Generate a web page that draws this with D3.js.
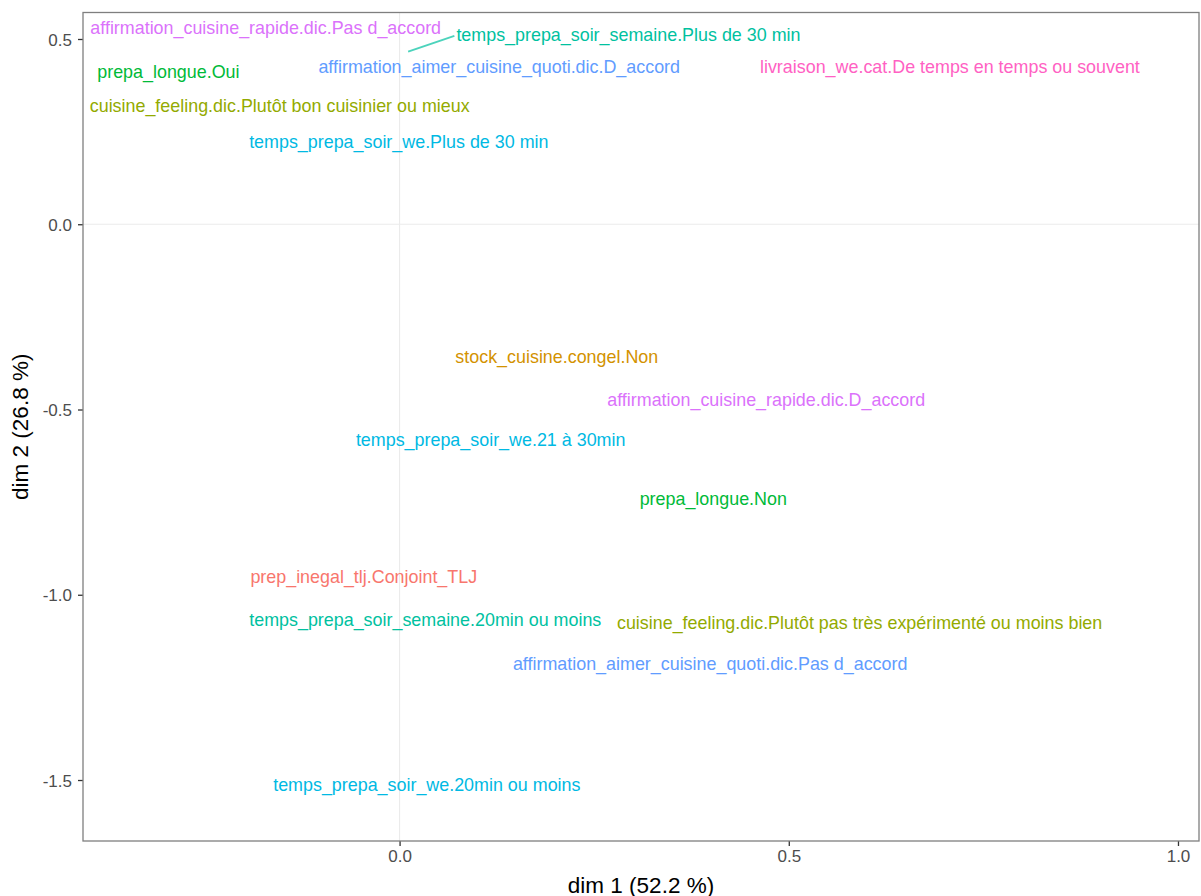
<!DOCTYPE html>
<html>
<head>
<meta charset="utf-8">
<script src="https://cdn.jsdelivr.net/npm/d3@7"></script>
<style>
  html, body { margin: 0; padding: 0; background: #fff; }
  svg { display: block; font-family: "Liberation Sans", Arial, sans-serif; }
</style>
</head>
<body>
<svg id="chart" width="1201" height="896"></svg>
<script>
// Category labels (MCA variable modalities)
const labels = [
  "affirmation_cuisine_rapide.dic.Pas d_accord",
  "temps_prepa_soir_semaine.Plus de 30 min",
  "prepa_longue.Oui",
  "affirmation_aimer_cuisine_quoti.dic.D_accord",
  "livraison_we.cat.De temps en temps ou souvent",
  "cuisine_feeling.dic.Plutôt bon cuisinier ou mieux",
  "temps_prepa_soir_we.Plus de 30 min",
  "stock_cuisine.congel.Non",
  "affirmation_cuisine_rapide.dic.D_accord",
  "temps_prepa_soir_we.21 à 30min",
  "prepa_longue.Non",
  "prep_inegal_tlj.Conjoint_TLJ",
  "temps_prepa_soir_semaine.20min ou moins",
  "cuisine_feeling.dic.Plutôt pas très expérimenté ou moins bien",
  "affirmation_aimer_cuisine_quoti.dic.Pas d_accord",
  "temps_prepa_soir_we.20min ou moins"
];
// Variable group of each label
const groups = [
  "affirmation_cuisine_rapide", "temps_prepa_soir_semaine", "prepa_longue",
  "affirmation_aimer_cuisine_quoti", "livraison_we", "cuisine_feeling",
  "temps_prepa_soir_we", "stock_cuisine", "affirmation_cuisine_rapide",
  "temps_prepa_soir_we", "prepa_longue", "prep_inegal_tlj",
  "temps_prepa_soir_semaine", "cuisine_feeling", "affirmation_aimer_cuisine_quoti",
  "temps_prepa_soir_we"
];
// Label positions (dim 1, dim 2)
const dim1 = [-0.172, 0.294, -0.297, 0.128, 0.707, -0.154, -0.001, 0.202, 0.471, 0.117, 0.403, -0.046, 0.033, 0.591, 0.399, 0.035];
const dim2 = [0.530, 0.511, 0.411, 0.424, 0.424, 0.319, 0.222, -0.358, -0.474, -0.582, -0.742, -0.952, -1.068, -1.076, -1.187, -1.514];
// Actual point coordinates for repelled labels (null = label sits on point)
const pointDim1 = [null, 0.011, null, null, null, null, null, null, null, null, null, null, null, null, null, null];
const pointDim2 = [null, 0.466, null, null, null, null, null, null, null, null, null, null, null, null, null, null];

const groupOrder = ["prep_inegal_tlj", "stock_cuisine", "cuisine_feeling", "prepa_longue",
  "temps_prepa_soir_semaine", "temps_prepa_soir_we", "affirmation_aimer_cuisine_quoti",
  "affirmation_cuisine_rapide", "livraison_we"];
const groupColors = ["#F8766D", "#D39200", "#93AA00", "#00BA38", "#00C19F", "#00B9E3", "#619CFF", "#DB72FB", "#FF61C3"];

const xTicks = [0.0, 0.5, 1.0];
const yTicks = [0.5, 0.0, -0.5, -1.0, -1.5];
const xTitle = "dim 1 (52.2 %)";
const yTitle = "dim 2 (26.8 %)";

const svg = d3.select("#chart");
const P = { left: 83, right: 1199, top: 12.5, bottom: 841 };

const x = d3.scaleLinear().domain([-0.4067, 1.027]).range([P.left, P.right]);
const y = d3.scaleLinear().domain([-1.6646, 0.5715]).range([P.bottom, P.top]);
const color = d3.scaleOrdinal().domain(groupOrder).range(groupColors);
const fmt = d => d.toFixed(1);

// panel background
svg.append("rect").attr("x", P.left).attr("y", P.top)
  .attr("width", P.right - P.left).attr("height", P.bottom - P.top)
  .attr("fill", "#fff");

// zero reference lines
svg.append("line").attr("x1", x(0)).attr("x2", x(0)).attr("y1", P.top).attr("y2", P.bottom)
  .attr("stroke", "#EBEBEB").attr("stroke-width", 1.1);
svg.append("line").attr("x1", P.left).attr("x2", P.right).attr("y1", y(0)).attr("y2", y(0))
  .attr("stroke", "#EBEBEB").attr("stroke-width", 1.1);

// axes
const xAxis = svg.append("g").attr("transform", `translate(0,${P.bottom})`)
  .call(d3.axisBottom(x).tickValues(xTicks).tickFormat(fmt).tickSize(5).tickPadding(4));
const yAxis = svg.append("g").attr("transform", `translate(${P.left},0)`)
  .call(d3.axisLeft(y).tickValues(yTicks).tickFormat(fmt).tickSize(5).tickPadding(6));
[xAxis, yAxis].forEach(a => {
  a.select(".domain").remove();
  a.selectAll(".tick line").attr("stroke", "#333").attr("stroke-width", 1.3);
  a.selectAll(".tick text").attr("fill", "#4D4D4D").style("font-size", "17px")
    .style("font-family", "'Liberation Sans', Arial, sans-serif");
});
yAxis.selectAll(".tick text").attr("dy", "0.36em");

// panel border
svg.append("rect").attr("x", P.left).attr("y", P.top)
  .attr("width", P.right - P.left).attr("height", P.bottom - P.top)
  .attr("fill", "none").attr("stroke", "#7F7F7F").attr("stroke-width", 1.3);

// labels
const data = labels.map((l, i) => ({
  label: l, group: groups[i], x: dim1[i], y: dim2[i],
  px: pointDim1[i], py: pointDim2[i]
}));

const texts = svg.append("g").selectAll("text").data(data).join("text")
  .attr("x", d => x(d.x)).attr("y", d => y(d.y))
  .attr("text-anchor", "middle").attr("dominant-baseline", "central")
  .attr("fill", d => color(d.group))
  .style("font-size", "17.9px")
  .text(d => d.label);

// segments for repelled labels
texts.each(function(d) {
  if (d.px === null) return;
  const bb = this.getBBox();
  svg.append("line")
    .attr("x1", x(d.px)).attr("y1", y(d.py))
    .attr("x2", bb.x - 2).attr("y2", y(d.y) + 1)
    .attr("stroke", color(d.group)).attr("stroke-opacity", 0.7).attr("stroke-width", 2);
});

// axis titles
svg.append("text").attr("x", (P.left + P.right) / 2).attr("y", 885)
  .attr("text-anchor", "middle").attr("dominant-baseline", "central")
  .style("font-size", "22.5px").attr("fill", "#000").text(xTitle);
svg.append("text").attr("transform", `translate(20,${(P.top + P.bottom) / 2}) rotate(-90)`)
  .attr("text-anchor", "middle").attr("dominant-baseline", "central")
  .style("font-size", "22.5px").attr("fill", "#000").text(yTitle);
</script>
</body>
</html>
